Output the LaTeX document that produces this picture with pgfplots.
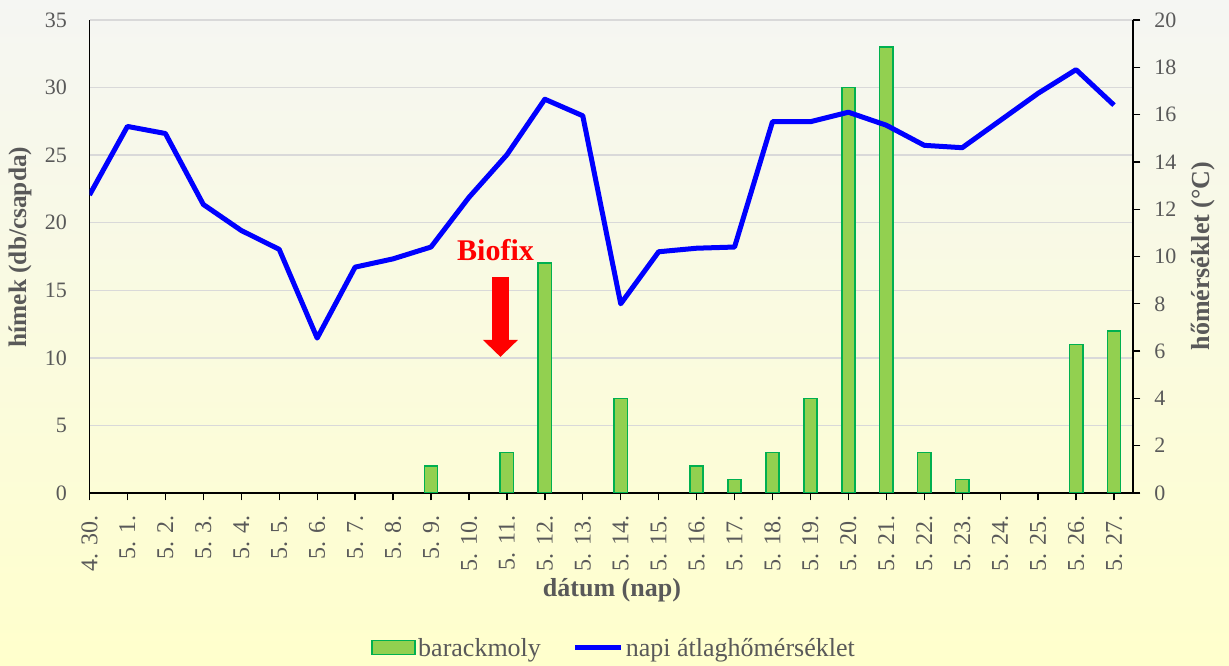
\documentclass[border=0pt]{standalone}
\usepackage{fontspec}
\setmainfont{Liberation Serif}
\usepackage{pgfplots}
\usepackage{pgfplotstable}
\pgfplotsset{compat=1.18}
\usetikzlibrary{arrows.meta}

\definecolor{barfill}{RGB}{146,208,80}
\definecolor{baredge}{RGB}{0,176,80}
\definecolor{txt}{RGB}{89,89,89}
\definecolor{gridc}{RGB}{217,217,217}
\definecolor{bgtop}{RGB}{245,246,243}
\definecolor{bgbot}{RGB}{255,255,204}

% male moths per trap
\pgfplotstableread{
x moly
9 2
11 3
12 17
14 7
16 2
17 1
18 3
19 7
20 30
21 33
22 3
23 1
26 11
27 12
}\molytable

% daily mean temperature
\pgfplotstableread{
x temp
0 12.6
1 15.5
2 15.2
3 12.2
4 11.1
5 10.3
6 6.55
7 9.55
8 9.9
9 10.4
10 12.5
11 14.3
12 16.65
13 15.95
14 8.0
15 10.2
16 10.35
17 10.4
18 15.7
19 15.7
20 16.1
21 15.55
22 14.7
23 14.6
24 15.75
25 16.9
26 17.9
27 16.4
}\temptable

\pgfplotsset{base/.style={
  scale only axis, width=782.6pt, height=354.75pt,
  at={(67.125pt,129.75pt)}, anchor=south west,
  xmin=0, xmax=27.5,
  tick label style={font=\fontsize{16.5}{19}\selectfont, text=txt},
  /pgf/number format/assume math mode=true,
}}

\begin{document}
\begin{tikzpicture}
\fill[top color=bgtop, bottom color=bgbot] (0,0) rectangle (921.75pt,499.5pt);
\path[use as bounding box] (0,0) rectangle (921.75pt,499.5pt);

\begin{axis}[base,
  axis x line=bottom, axis y line=left,
  x axis line style={black, line width=1pt, -},
  y axis line style={black, line width=1pt, -},
  ymin=0, ymax=35, ytick={0,5,...,35},
  ymajorgrids, grid style={gridc, line width=1pt},
  ytick style={draw=none},
  xtick={0,...,27},
  xticklabels={4. 30., 5. 1., 5. 2., 5. 3., 5. 4., 5. 5., 5. 6., 5. 7., 5. 8., 5. 9., 5. 10., 5. 11., 5. 12., 5. 13., 5. 14., 5. 15., 5. 16., 5. 17., 5. 18., 5. 19., 5. 20., 5. 21., 5. 22., 5. 23., 5. 24., 5. 25., 5. 26., 5. 27.},
  xtick style={black, line width=1pt}, tick align=outside, major tick length=5.5pt,
  xticklabel style={rotate=90, anchor=east, font=\fontsize{18}{20}\selectfont},
  yticklabel shift=8pt, xticklabel shift=8pt,
  xlabel={dátum (nap)}, ylabel={hímek (db/csapda)},
  xlabel style={at={(axis description cs:0.5007,-0.205)}, anchor=center,
    font=\bfseries\fontsize{19.5}{22}\selectfont, text=txt},
  ylabel style={at={(axis description cs:-0.0666,0.52)}, anchor=center,
    font=\bfseries\fontsize{19}{22}\selectfont, text=txt},
]
\addplot[ybar, bar width=0.35, fill=barfill, draw=baredge, line width=1.2pt] table[x=x,y=moly]{\molytable};
\node[text=red, font=\bfseries\fontsize{22.5}{25}\selectfont] at (axis cs:10.70,17.99) {Biofix};
\draw[red, line width=13.2pt, -{Triangle[width=25.5pt,length=12.75pt]}] (axis cs:10.83,15.99) -- (axis cs:10.83,10.07);
\end{axis}

\begin{axis}[base,
  axis x line=none, axis y line=right, xtick=\empty,
  y axis line style={black, line width=1pt, -},
  ymin=0, ymax=20, ytick={0,2,...,20},
  ytick style={black, line width=1pt}, tick align=outside, major tick length=5.5pt,
  yticklabel shift=7pt,
  ylabel={hőmérséklet (°C)},
  ylabel style={at={(axis description cs:1.067,0.501)}, anchor=center,
    font=\bfseries\fontsize{19.5}{22}\selectfont, text=txt},
  legend style={at={(axis description cs:0.503,-0.3277)}, anchor=center,
    draw=none, fill=none, font=\fontsize{19.5}{22}\selectfont, text=txt,
    legend columns=2, nodes={inner sep=2pt},
    /tikz/every even column/.append style={column sep=22pt}},
  legend cell align=left,
]
\addlegendimage{legend image code/.code={\draw[fill=barfill,draw=baredge,line width=1.2pt] (0pt,-5pt) rectangle (32pt,5.5pt);}}
\addlegendentry{barackmoly}
\addplot[blue, line width=3.75pt, line join=round,
  legend image code/.code={\draw[blue,line width=3.75pt] (0pt,0pt)--(34pt,0pt);}] table[x=x,y=temp]{\temptable};
\addlegendentry{napi átlaghőmérséklet}
\end{axis}
\end{tikzpicture}
\end{document}
